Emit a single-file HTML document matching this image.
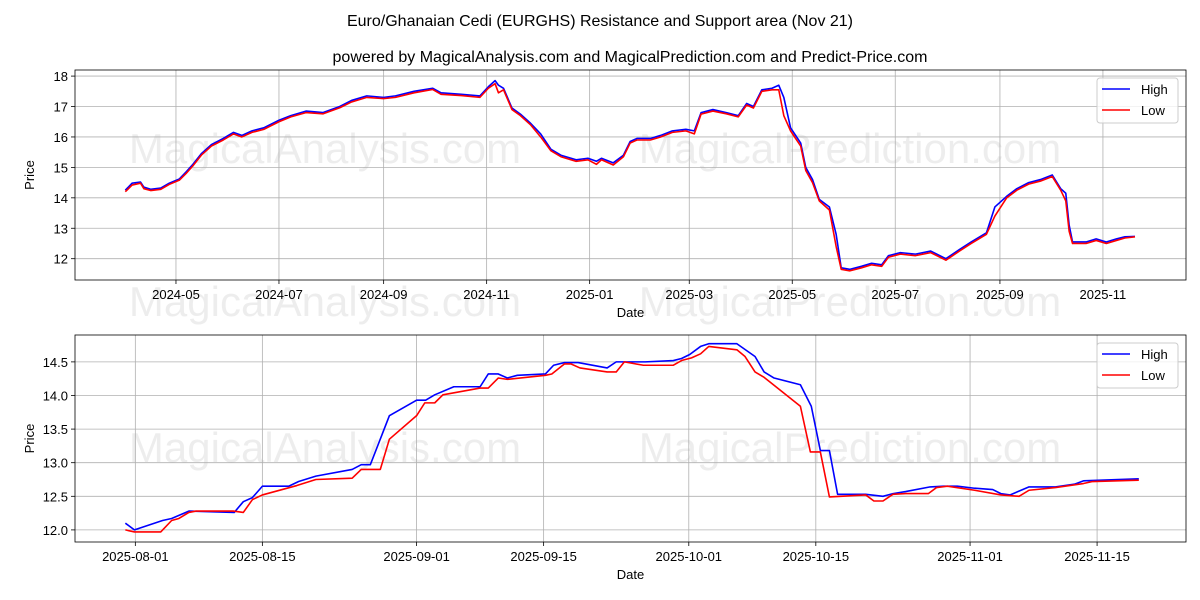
<!DOCTYPE html>
<html><head><meta charset="utf-8">
<style>
html,body{margin:0;padding:0;background:#fff;}
svg{display:block;font-family:"Liberation Sans","DejaVu Sans",sans-serif;}
</style></head>
<body>
<svg id="chart" width="1200" height="600" viewBox="0 0 1200 600" xmlns="http://www.w3.org/2000/svg">
<rect width="1200" height="600" fill="#fff"/>
<g font-size="42" fill="#000" fill-opacity="0.07" text-anchor="middle">
<text x="325" y="163">MagicalAnalysis.com</text>
<text x="850" y="163">MagicalPrediction.com</text>
<text x="325" y="316">MagicalAnalysis.com</text>
<text x="850" y="316">MagicalPrediction.com</text>
<text x="325" y="462">MagicalAnalysis.com</text>
<text x="850" y="462">MagicalPrediction.com</text>
</g>
<text x="600" y="26" text-anchor="middle" font-size="16">Euro/Ghanaian Cedi (EURGHS) Resistance and Support area (Nov 21)</text>
<text x="630" y="62" text-anchor="middle" font-size="16">powered by MagicalAnalysis.com and MagicalPrediction.com and Predict-Price.com</text>
<g id="top"></g>
<g id="bot"></g>
</svg>
<script>
// ---- Top chart data (days since 2024-04-01) ----
const topDays=[0,4,9,11,15,21,26,32,36,40,45,51,58,64,69,75,82,91,98,107,117,127,134,143,153,160,171,182,187,199,210,215,219,221,224,229,234,240,246,252,258,267,274,279,282,289,295,299,303,311,317,324,332,337,341,348,356,363,368,372,377,383,387,390,394,400,403,407,411,417,421,424,429,436,442,448,452,459,468,477,486,494,501,510,515,522,528,535,542,549,554,557,559,561,569,575,581,587,592,598];
const topHigh=[14.25,14.48,14.52,14.35,14.28,14.32,14.48,14.62,14.85,15.1,15.45,15.75,15.95,16.15,16.05,16.2,16.3,16.55,16.7,16.85,16.8,17.0,17.2,17.35,17.3,17.35,17.5,17.6,17.45,17.4,17.35,17.65,17.85,17.7,17.6,16.95,16.75,16.45,16.1,15.6,15.4,15.25,15.3,15.2,15.3,15.15,15.4,15.85,15.95,15.95,16.05,16.2,16.25,16.2,16.8,16.9,16.8,16.7,17.1,17.0,17.55,17.6,17.7,17.3,16.3,15.8,15.0,14.6,13.95,13.7,12.8,11.7,11.65,11.75,11.85,11.8,12.1,12.2,12.15,12.25,12.0,12.3,12.55,12.85,13.7,14.05,14.3,14.5,14.6,14.75,14.3,14.15,13.1,12.55,12.55,12.65,12.55,12.65,12.72,12.73];
const topLow=[14.2,14.42,14.48,14.3,14.24,14.28,14.44,14.58,14.8,15.05,15.4,15.7,15.9,16.1,16.0,16.15,16.25,16.5,16.66,16.8,16.76,16.96,17.15,17.3,17.26,17.3,17.45,17.56,17.4,17.36,17.3,17.6,17.75,17.45,17.55,16.9,16.7,16.4,16.0,15.55,15.35,15.2,15.25,15.1,15.25,15.08,15.35,15.8,15.9,15.9,16.0,16.15,16.2,16.1,16.75,16.85,16.76,16.66,17.05,16.95,17.5,17.55,17.55,16.7,16.2,15.7,14.9,14.5,13.9,13.6,12.4,11.65,11.6,11.7,11.8,11.75,12.05,12.15,12.1,12.2,11.95,12.25,12.5,12.8,13.4,14.0,14.25,14.45,14.55,14.7,14.25,13.9,12.9,12.5,12.5,12.6,12.5,12.6,12.68,12.72];
const topTickLabels=["2024-05","2024-07","2024-09","2024-11","2025-01","2025-03","2025-05","2025-07","2025-09","2025-11"];
const topTickDays=[30,91,153,214,275,334,395,456,518,579];
const topYTicks=[12,13,14,15,16,17,18];

// ---- Bottom chart data (days since 2025-08-01) ----
const botHighDays=[-1.1,-0.1,3,4,5.9,10.9,11.9,12.9,14,16.9,18,19.9,23.9,24.9,25.9,28,31,32,33,35.1,38,38.9,40,41,42.1,45.2,46.1,47.3,48.8,52,53,56.2,59.3,60.2,61.1,62.3,63.2,66.3,68.3,69.3,70.4,73.3,74.5,75.5,76.5,77.4,80.5,82.4,83.5,84.9,87.6,89.1,90.6,92.5,94.5,95.4,96.4,98.5,101.4,103.5,104.5,110.6];
const botHigh=[12.10,12.00,12.14,12.17,12.28,12.26,12.42,12.48,12.65,12.65,12.72,12.80,12.90,12.97,12.97,13.70,13.93,13.93,14.01,14.13,14.13,14.32,14.32,14.26,14.30,14.32,14.45,14.49,14.49,14.41,14.50,14.50,14.52,14.55,14.61,14.73,14.77,14.77,14.58,14.35,14.26,14.16,13.84,13.18,13.18,12.53,12.53,12.50,12.54,12.57,12.64,12.65,12.65,12.62,12.60,12.54,12.52,12.64,12.64,12.68,12.73,12.76];
const botLowDays=[-1.1,-0.1,2.8,4,4.8,5.9,6.7,10.8,11.9,12.9,14,17.8,19.9,23.9,24.9,27,28,31,31.9,33,33.9,38,38.9,40,41,45.2,45.9,47.3,48,49,52,53,53.9,56,59.3,60.2,61.3,62.3,63.2,66.3,67.2,68.3,69.3,73.3,74.4,75.5,76.5,80.5,81.4,82.4,83.5,84.9,87.4,88.3,89.5,92.5,95.4,97.4,98.5,101.4,104.5,105.5,110.6];
const botLow=[12.00,11.97,11.97,12.14,12.17,12.26,12.28,12.28,12.26,12.45,12.52,12.66,12.75,12.77,12.90,12.90,13.35,13.70,13.89,13.89,14.01,14.11,14.11,14.26,14.24,14.30,14.32,14.47,14.47,14.41,14.35,14.35,14.50,14.45,14.45,14.52,14.56,14.62,14.73,14.68,14.58,14.35,14.27,13.84,13.16,13.16,12.49,12.52,12.43,12.43,12.53,12.54,12.54,12.63,12.65,12.59,12.52,12.50,12.59,12.63,12.69,12.72,12.74];
const botTickLabels=["2025-08-01","2025-08-15","2025-09-01","2025-09-15","2025-10-01","2025-10-15","2025-11-01","2025-11-15"];
const botTickDays=[0,14,31,45,61,75,92,106];
const botYTicks=[12.0,12.5,13.0,13.5,14.0,14.5];

const NS="http://www.w3.org/2000/svg";
function mk(parent,tag,attrs,text){const e=document.createElementNS(NS,tag);for(const k in attrs)e.setAttribute(k,attrs[k]);if(text!==undefined)e.textContent=text;parent.appendChild(e);return e;}

function panel(g,box,xs,ys,xTickDays,xTickLabels,yTicks,yFmt,hiD,hi,loD,lo){
  const X=d=>box.x0+(d-xs[0])*(box.x1-box.x0)/(xs[1]-xs[0]);
  const Y=v=>box.y1-(v-ys[0])*(box.y1-box.y0)/(ys[1]-ys[0]);
  const cy=(box.y0+box.y1)/2;
  xTickDays.forEach((d,i)=>{
    const x=X(d);
    const l=mk(g,'line',{x1:x,x2:x,y1:box.y0,y2:box.y1,stroke:'#b0b0b0','stroke-width':0.8});
    
    
    mk(g,'line',{x1:x,x2:x,y1:box.y1,y2:box.y1+4,stroke:'#000','stroke-width':0.8});
    const t=mk(g,'text',{x:x,y:box.y1+19,'text-anchor':'middle','font-size':13},xTickLabels[i]);
    
    
  });
  yTicks.forEach(v=>{
    const y=Y(v);
    const l=mk(g,'line',{x1:box.x0,x2:box.x1,y1:y,y2:y,stroke:'#b0b0b0','stroke-width':0.8});
    
    
    mk(g,'line',{x1:box.x0-4,x2:box.x0,y1:y,y2:y,stroke:'#000','stroke-width':0.8});
    const t=mk(g,'text',{x:box.x0-7,y:y+5,'text-anchor':'end','font-size':13},yFmt(v));
    
    
  });
  const ph=mk(g,'polyline',{points:hiD.map((d,i)=>X(d)+','+Y(hi[i])).join(' '),fill:'none',stroke:'#0000ff','stroke-width':1.6,'stroke-linejoin':'round'});
  
  
  const pl=mk(g,'polyline',{points:loD.map((d,i)=>X(d)+','+Y(lo[i])).join(' '),fill:'none',stroke:'#ff0000','stroke-width':1.6,'stroke-linejoin':'round'});
  
  
  const fr=mk(g,'rect',{x:box.x0,y:box.y0,width:box.x1-box.x0,height:box.y1-box.y0,fill:'none',stroke:'#000','stroke-width':0.8});
  
  
  const xt=mk(g,'text',{x:(box.x0+box.x1)/2,y:box.y1+37,'text-anchor':'middle','font-size':13},'Date');
  
  
  const yt=mk(g,'text',{x:box.x0-41,y:cy,'text-anchor':'middle','font-size':13,transform:'rotate(-90 '+(box.x0-41)+' '+cy+')'},'Price');
  
  
  const lg=mk(g,'g',{});
  
  
  const lx=1097, ly=box.y0+8;
  mk(lg,'rect',{x:lx,y:ly,width:81,height:45,rx:3,fill:'#fff','fill-opacity':0.8,stroke:'#cccccc'});
  mk(lg,'line',{x1:lx+5,x2:lx+33,y1:ly+11,y2:ly+11,stroke:'#0000ff','stroke-width':1.6});
  const t1=mk(lg,'text',{x:lx+44,y:ly+16,'font-size':13},'High');
  
  
  mk(lg,'line',{x1:lx+5,x2:lx+33,y1:ly+32,y2:ly+32,stroke:'#ff0000','stroke-width':1.6});
  const t2=mk(lg,'text',{x:lx+44,y:ly+37,'font-size':13},'Low');
  
  
}
panel(document.getElementById('top'),{x0:75,x1:1186,y0:70,y1:280},[-29.8,628.2],[11.3,18.2],topTickDays,topTickLabels,topYTicks,v=>String(v),topDays,topHigh,topDays,topLow);
panel(document.getElementById('bot'),{x0:75,x1:1186,y0:335,y1:542},[-6.65,115.8],[11.82,14.9],botTickDays,botTickLabels,botYTicks,v=>v.toFixed(1),botHighDays,botHigh,botLowDays,botLow);
</script>
</body></html>
